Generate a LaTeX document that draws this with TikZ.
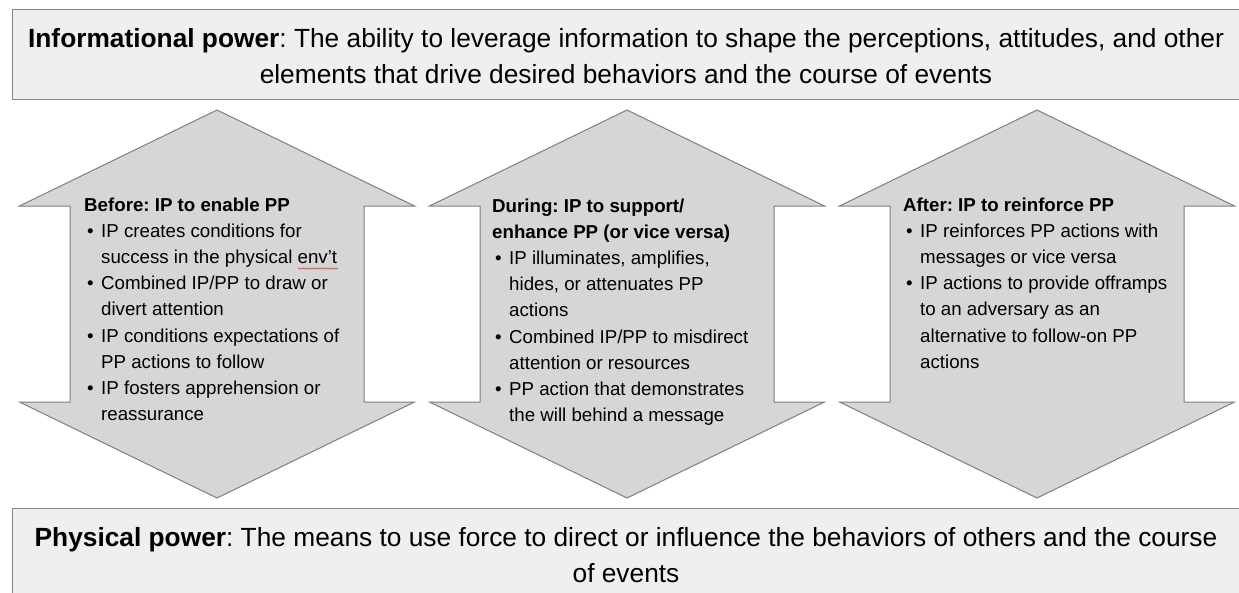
\documentclass[tikz,border=0pt]{standalone}
\usepackage{fontspec}
\setmainfont{Liberation Sans}
\usetikzlibrary{decorations.pathmorphing}
\definecolor{boxfill}{HTML}{EFEFEF}
\definecolor{boxline}{HTML}{858585}
\definecolor{arrowfill}{HTML}{D6D6D6}
\definecolor{arrowline}{HTML}{7F7F7F}
\definecolor{squiggle}{HTML}{E0403A}
\newcommand{\bul}{\makebox[17pt][l]{\hspace{3pt}•}}
\newcommand{\ind}{\hspace*{17pt}}
\frenchspacing
\begin{document}
\begin{tikzpicture}[x=1pt,y=-1pt,
  infobox/.style={draw=boxline, fill=boxfill, line width=1.3pt, inner sep=0pt, anchor=north west},
  arrowshape/.style={draw=arrowline, fill=arrowfill, line width=1pt, line join=miter},
  arrowtext/.style={anchor=north west, inner sep=0pt, align=left, font=\fontsize{18.7}{26.2}\selectfont},
  boxtext/.style={anchor=north, inner sep=0pt, align=center, font=\fontsize{26.3}{36}\selectfont}]
\useasboundingbox (0,0) rectangle (1239,592);
\clip (0,0) rectangle (1239,592);
\fill[white] (0,0) rectangle (1239,592);

% top and bottom boxes
\node[infobox, minimum width=1232pt, minimum height=90pt] (ipbox) at (12,9) {};
\node[infobox, minimum width=1232pt, minimum height=100pt] (ppbox) at (12,508) {};

\node[boxtext] (iptext) at (626,27.8)
  {\textbf{Informational power}: The ability to leverage information to shape the perceptions, attitudes, and other\\
   elements that drive desired behaviors and the course of events};
\node[boxtext] (pptext) at (626,526.8)
  {\textbf{Physical power}: The means to use force to direct or influence the behaviors of others and the course\\
   of events};

% double-headed arrows
\foreach \cx in {217,627,1037} {
  \draw[arrowshape] (\cx,110) -- (\cx+197.5,206) -- (\cx+147,206) -- (\cx+147,402)
    -- (\cx+197.5,402) -- (\cx,498) -- (\cx-197.5,402) -- (\cx-147,402)
    -- (\cx-147,206) -- (\cx-197.5,206) -- cycle;
}

\node[arrowtext] (before) at (84,197.3)
  {\textbf{Before: IP to enable PP}\\
   \bul IP creates conditions for\\
   \ind success in the physical env’t\\
   \bul Combined IP/PP to draw or\\
   \ind divert attention\\
   \bul IP conditions expectations of\\
   \ind PP actions to follow\\
   \bul IP fosters apprehension or\\
   \ind reassurance};

\node[arrowtext] (during) at (492,198.3)
  {\textbf{During: IP to support/}\\
   \textbf{enhance PP (or vice versa)}\\
   \bul IP illuminates, amplifies,\\
   \ind hides, or attenuates PP\\
   \ind actions\\
   \bul Combined IP/PP to misdirect\\
   \ind attention or resources\\
   \bul PP action that demonstrates\\
   \ind the will behind a message};

\node[arrowtext] (after) at (903,197.3)
  {\textbf{After: IP to reinforce PP}\\
   \bul IP reinforces PP actions with\\
   \ind messages or vice versa\\
   \bul IP actions to provide offramps\\
   \ind to an adversary as an\\
   \ind alternative to follow-on PP\\
   \ind actions};

% spell-check squiggle under env't
\coordinate (sqa) at (298,268.5);
\coordinate (sqb) at (338,268.5);
\draw[squiggle, line width=0.5pt, decorate, decoration={snake, amplitude=0.7pt, segment length=2.4pt}] (sqa) -- (sqb);
\end{tikzpicture}
\end{document}
